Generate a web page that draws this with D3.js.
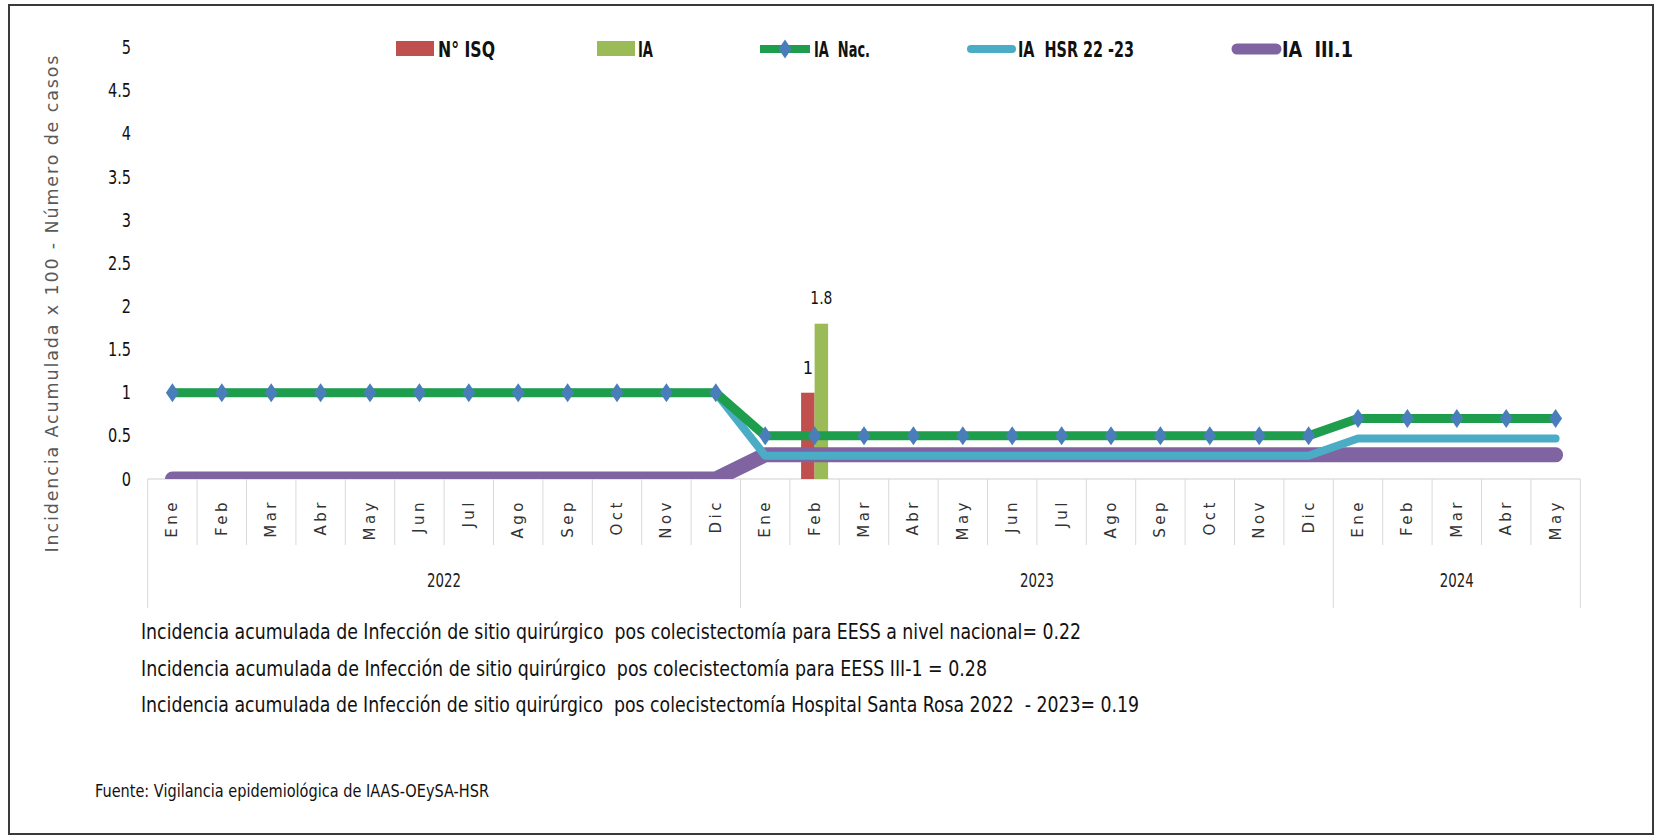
<!DOCTYPE html>
<html><head><meta charset="utf-8">
<script src="https://cdn.jsdelivr.net/npm/d3@7"></script>
<style>
body{margin:0;background:#fff;}
svg text{white-space:pre;}
.narrow{font-family:"Liberation Sans Narrow","Arial Narrow","DejaVu Sans Condensed",sans-serif;font-stretch:condensed;}
</style></head>
<body><svg id="c" width="1658" height="838"></svg>
<script>
// ---- data ----
const monthLabels = ["Ene","Feb","Mar","Abr","May","Jun","Jul","Ago","Sep","Oct","Nov","Dic",
                     "Ene","Feb","Mar","Abr","May","Jun","Jul","Ago","Sep","Oct","Nov","Dic",
                     "Ene","Feb","Mar","Abr","May"];
const years = ["2022","2023","2024"];
const yearCounts = [12,12,5];
const nIsq  = [null,null,null,null,null,null,null,null,null,null,null,null,
               null,1,null,null,null,null,null,null,null,null,null,null,
               null,null,null,null,null];
const iaBar = [null,null,null,null,null,null,null,null,null,null,null,null,
               null,1.8,null,null,null,null,null,null,null,null,null,null,
               null,null,null,null,null];
const iaNac = [1,1,1,1,1,1,1,1,1,1,1,1,
               0.5,0.5,0.5,0.5,0.5,0.5,0.5,0.5,0.5,0.5,0.5,0.5,
               0.7,0.7,0.7,0.7,0.7];
const iaHsr = [1,1,1,1,1,1,1,1,1,1,1,1,
               0.27,0.27,0.27,0.27,0.27,0.27,0.27,0.27,0.27,0.27,0.27,0.27,
               0.47,0.47,0.47,0.47,0.47];
const iaIII = [0,0,0,0,0,0,0,0,0,0,0,0,
               0.28,0.28,0.28,0.28,0.28,0.28,0.28,0.28,0.28,0.28,0.28,0.28,
               0.28,0.28,0.28,0.28,0.28];
const yTicks = [0,0.5,1,1.5,2,2.5,3,3.5,4,4.5,5];
const yTitle = "Incidencia Acumulada x 100 - Número de casos";
const legendNames = ["N° ISQ","IA","IA  Nac.","IA  HSR 22 -23","IA  III.1"];
const notes = [
  "Incidencia acumulada de Infección de sitio quirúrgico  pos colecistectomía para EESS a nivel nacional= 0.22",
  "Incidencia acumulada de Infección de sitio quirúrgico  pos colecistectomía para EESS III-1 = 0.28",
  "Incidencia acumulada de Infección de sitio quirúrgico  pos colecistectomía Hospital Santa Rosa 2022  - 2023= 0.19"
];
const source = "Fuente: Vigilancia epidemiológica de IAAS-OEySA-HSR";

// ---- layout ----
const svg = d3.select("#c");
const C = {red:"#C0504D", lime:"#9BBB59", green:"#1E9E4C", diamond:"#4A7EBB", cyan:"#4BACC6", purple:"#8064A2"};
svg.append("rect").attr("x",9).attr("y",5).attr("width",1644).attr("height",829)
   .attr("fill","#fff").attr("stroke","#3a3a3a").attr("stroke-width",2);

const idx = d3.range(monthLabels.length);
const x = d3.scaleBand().domain(idx).range([147.7,1580.3]).padding(0);
const y = d3.scaleLinear().domain([0,5]).range([479,47.6]);
const base = y(0);

// y axis
const yAxis = d3.axisLeft(y).tickValues(yTicks).tickSize(0).tickPadding(0).tickFormat(d=>String(d));
const ga = svg.append("g").attr("transform","translate(131,0)").call(yAxis);
ga.select(".domain").remove();
ga.selectAll("text").attr("class","narrow").attr("font-size",19).attr("fill","#111")
  .attr("transform","scale(0.85,1)").attr("x",0);

// y title
svg.append("text").attr("transform","translate(52,304) rotate(-90)")
  .attr("text-anchor","middle").attr("dominant-baseline","central")
  .attr("font-family","DejaVu Sans, Verdana, sans-serif").attr("font-size",17.5).attr("fill","#595959")
  .attr("textLength",497).attr("lengthAdjust","spacing").text(yTitle);

// category axis
svg.append("line").attr("x1",x.range()[0]).attr("x2",x.range()[1]).attr("y1",base).attr("y2",base)
  .attr("stroke","#d0d0d0").attr("stroke-width",1.2);
const yearBounds = [0]; yearCounts.forEach((c,i)=>yearBounds.push(yearBounds[i]+c));
d3.range(monthLabels.length+1).forEach(i=>{
  const xx = x.range()[0] + i*x.bandwidth();
  const isYear = yearBounds.includes(i);
  svg.append("line").attr("x1",xx).attr("x2",xx).attr("y1",base).attr("y2",isYear?608:545)
    .attr("stroke","#d9d9d9").attr("stroke-width",1);
});
svg.append("g").selectAll("text").data(idx).join("text")
  .attr("transform",i=>`translate(${x(i)+x.bandwidth()/2},499) rotate(-90)`)
  .attr("text-anchor","end").attr("dominant-baseline","central")
  .attr("font-family","DejaVu Sans, Verdana, sans-serif").attr("font-size",15)
  .attr("letter-spacing",3.5).attr("fill","#333")
  .text(i=>monthLabels[i]);
years.forEach((yr,k)=>{
  const x0 = x.range()[0] + yearBounds[k]*x.bandwidth();
  const x1 = x.range()[0] + yearBounds[k+1]*x.bandwidth();
  svg.append("text").attr("class","narrow").attr("x",(x0+x1)/2).attr("y",587)
    .attr("text-anchor","middle").attr("font-size",19).attr("fill","#222")
    .attr("textLength",34).attr("lengthAdjust","spacingAndGlyphs").text(yr);
});

// bars
const barW = 13.5;
const bars = svg.append("g");
idx.forEach(i=>{
  const cx = x(i)+x.bandwidth()/2;
  if(nIsq[i]!=null){
    bars.append("rect").attr("x",cx-barW).attr("y",y(nIsq[i])).attr("width",barW).attr("height",base-y(nIsq[i])).attr("fill",C.red);
    bars.append("text").attr("class","narrow").attr("x",cx-barW/2).attr("y",y(nIsq[i])-19).attr("text-anchor","middle")
      .attr("font-size",18).attr("fill","#111").text(String(nIsq[i]));
  }
  if(iaBar[i]!=null){
    bars.append("rect").attr("x",cx).attr("y",y(iaBar[i])).attr("width",barW).attr("height",base-y(iaBar[i])).attr("fill",C.lime);
    bars.append("text").attr("class","narrow").attr("x",cx+barW/2).attr("y",y(iaBar[i])-20).attr("text-anchor","middle")
      .attr("font-size",18).attr("fill","#111").attr("textLength",22).attr("lengthAdjust","spacingAndGlyphs")
      .text(String(iaBar[i]));
  }
});

// lines (clipped to plot area)
svg.append("defs").append("clipPath").attr("id","plot").append("rect")
  .attr("x",130).attr("y",30).attr("width",1480).attr("height",base-30);
const lg = svg.append("g").attr("clip-path","url(#plot)");
const line = d3.line().x((d,i)=>x(i)+x.bandwidth()/2).y(d=>y(d));
lg.append("path").datum(iaIII).attr("d",line).attr("fill","none").attr("stroke",C.purple)
  .attr("stroke-width",15).attr("stroke-linecap","round").attr("stroke-linejoin","round");
lg.append("path").datum(iaHsr).attr("d",line).attr("fill","none").attr("stroke",C.cyan)
  .attr("stroke-width",8).attr("stroke-linecap","round").attr("stroke-linejoin","round");
lg.append("path").datum(iaNac).attr("d",line).attr("fill","none").attr("stroke",C.green)
  .attr("stroke-width",9).attr("stroke-linejoin","round");
const diamondPath = "M0,-9.5L6.5,0L0,9.5L-6.5,0Z";
lg.selectAll("path.dm").data(iaNac).join("path").attr("class","dm")
  .attr("transform",(d,i)=>`translate(${x(i)+x.bandwidth()/2},${y(d)})`)
  .attr("d",diamondPath).attr("fill",C.diamond);

// legend
const L = svg.append("g");
const ly = 49;
L.append("rect").attr("x",396).attr("y",41).attr("width",38).attr("height",15).attr("fill",C.red);
L.append("rect").attr("x",597).attr("y",41).attr("width",38).attr("height",15).attr("fill",C.lime);
L.append("line").attr("x1",760).attr("x2",810).attr("y1",ly).attr("y2",ly).attr("stroke",C.green).attr("stroke-width",8);
L.append("path").attr("transform",`translate(785,${ly})`).attr("d",diamondPath).attr("fill",C.diamond);
L.append("line").attr("x1",971).attr("x2",1012).attr("y1",ly).attr("y2",ly).attr("stroke",C.cyan).attr("stroke-width",8).attr("stroke-linecap","round");
L.append("line").attr("x1",1237).attr("x2",1276).attr("y1",ly).attr("y2",ly).attr("stroke",C.purple).attr("stroke-width",11).attr("stroke-linecap","round");
const legX = [438,638,814,1018,1282];
const legLen = [57,15,56,116,71];
legendNames.forEach((t,i)=>{
  L.append("text").attr("class","narrow").attr("x",legX[i]).attr("y",57).attr("font-size",21)
    .attr("font-weight","bold").attr("fill","#111")
    .attr("textLength",legLen[i]).attr("lengthAdjust","spacingAndGlyphs").text(t);
});

// notes
const noteY = [639,676,712];
const noteLen = [940,846,998];
notes.forEach((t,i)=>{
  svg.append("text").attr("class","narrow").attr("x",141).attr("y",noteY[i]).attr("font-size",21.5)
    .attr("fill","#111").attr("textLength",noteLen[i]).attr("lengthAdjust","spacingAndGlyphs").text(t);
});
svg.append("text").attr("class","narrow").attr("x",95).attr("y",797).attr("font-size",17)
  .attr("fill","#111").attr("textLength",394).attr("lengthAdjust","spacingAndGlyphs").text(source);
</script></body></html>
